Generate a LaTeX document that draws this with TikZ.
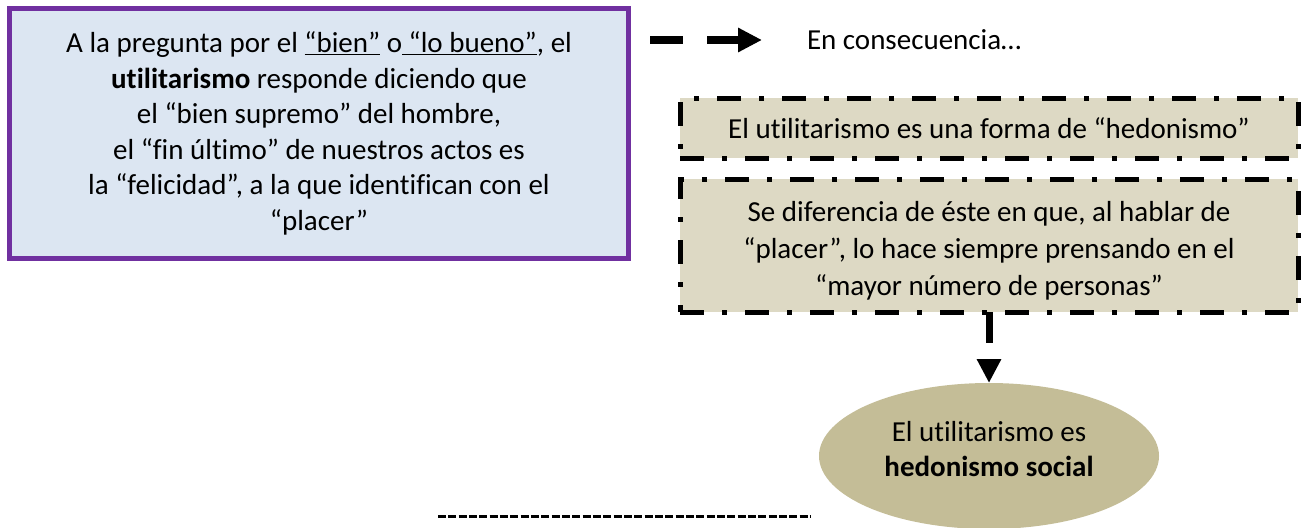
\documentclass[tikz,border=0pt]{standalone}
\usepackage{fontspec}
\setmainfont{Carlito}[Ligatures=NoCommon]
\usetikzlibrary{shapes.geometric,arrows.meta,positioning}
\definecolor{azulclaro}{HTML}{DCE6F2}
\definecolor{morado}{HTML}{7030A0}
\definecolor{pardo}{HTML}{DDD9C4}
\definecolor{pardoosc}{HTML}{C4BD97}

\begin{document}
\begin{tikzpicture}[x=1pt,y=-1pt]
\tikzstyle{texto}=[font=\fontsize{29}{35.5}\selectfont,inner sep=0pt,outer sep=0pt,align=center]
\tikzstyle{pregunta}=[texto,draw=morado,fill=azulclaro,line width=5pt,
minimum width=619pt,minimum height=250pt]
\tikzstyle{caja}=[texto,draw=black,fill=pardo,line width=5pt,
dash pattern=on 24pt off 18pt on 5pt off 18pt,minimum width=618pt]
\tikzstyle{flecha}=[draw=black,dash pattern=on 33pt off 24pt,
-{Triangle[length=24pt,width=23pt]}]
\useasboundingbox (0,0) rectangle (1308,527);

\node[pregunta] at (319,133.5) (pregunta) {A la pregunta por el \underline{“bien”} o\underline{\ “lo bueno”}, el\\
\textbf{utilitarismo} responde diciendo que\\
el “bien supremo” del hombre,\\
el “fin último” de nuestros actos es\\
la “felicidad”, a la que identifican con el\\
“placer”};
\coordinate (cola) at (650,40);
\coordinate (punta) at (762,40);
\node[texto,anchor=west,right=45pt of punta] (consec) {En consecuencia…};
\node[caja,minimum height=60pt] at (989,128) (hedonismo) {El utilitarismo es una forma de “hedonismo”};
\node[caja,minimum height=133pt,below=21pt of hedonismo] (diferencia) {};
\node[texto,font=\fontsize{29}{37}\selectfont,yshift=-5pt] at (diferencia.center) (diferenciatxt) {Se diferencia de éste en que, al hablar de\\
“placer”, lo hace siempre prensando en el\\
“mayor número de personas”};
\node[ellipse,fill=pardoosc,inner sep=0pt,outer sep=0pt,minimum width=340pt,
minimum height=146pt,below=71pt of diferencia] (social) {};
\node[texto,yshift=7pt] at (social.center) (socialtxt) {El utilitarismo es\\ \textbf{hedonismo social}};
\coordinate (raya1) at (438,516);
\coordinate (raya2) at (810,516);

\draw[flecha,line width=8pt] (cola) -- (punta);
\draw[flecha,line width=7pt,dash pattern=on 31pt off 16pt] (diferencia.south) -- (social.north);
\draw[line width=3pt,dash pattern=on 8pt off 2.33pt] (raya1) -- (raya2);

\end{tikzpicture}
\end{document}
